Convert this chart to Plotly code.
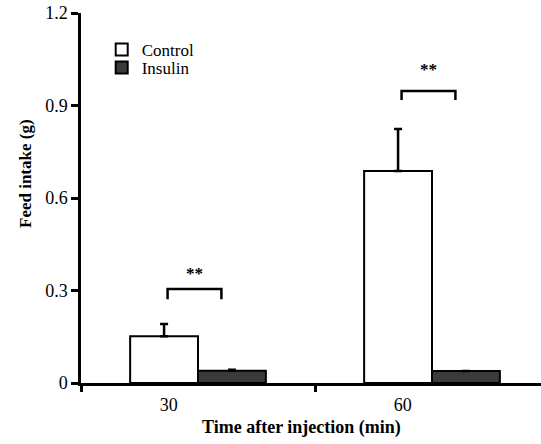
import plotly.graph_objects as go

# ---- data ----
categories = ["30", "60"]
control_mean = [0.152, 0.688]
control_err = [0.039, 0.136]
insulin_mean = [0.040, 0.039]
insulin_err = [0.003, 0.0]

# significance brackets (data coords: value of bracket top / leg bottom / star label)
sig_labels = ["**", "**"]
sig_top = [0.305, 0.947]
sig_leg = [0.272, 0.918]
sig_star = [0.352, 1.012]

yticks = [0, 0.3, 0.6, 0.9, 1.2]
ytick_text = ["0", "0.3", "0.6", "0.9", "1.2"]

# ---- style ----
FONT = "Liberation Serif"
pos = [1, 2]
label_shift = -0.125
br_left, br_right = -0.13, 0.10
xr = [0.5, 0.5 + 460 / 234]

fig = go.Figure()
fig.add_trace(go.Bar(
    x=pos, y=control_mean, name="Control", legend="legend",
    marker=dict(color="white", line=dict(color="black", width=2)),
    error_y=dict(type="data", array=control_err, arrayminus=[0] * len(pos), symmetric=False,
                 color="black", thickness=2.5, width=4),
))
fig.add_trace(go.Bar(
    x=pos, y=insulin_mean, name="Insulin", legend="legend2",
    marker=dict(color="#3a3a3a", line=dict(color="black", width=2)),
    error_y=dict(type="data", array=insulin_err, arrayminus=[0] * len(pos), symmetric=False,
                 color="black", thickness=2.5, width=4),
))

for i, p in enumerate(pos):
    fig.add_trace(go.Scatter(
        x=[p + br_left, p + br_left, p + br_right, p + br_right],
        y=[sig_leg[i], sig_top[i], sig_top[i], sig_leg[i]],
        mode="lines", line=dict(color="black", width=2.5),
        showlegend=False, hoverinfo="skip", xaxis="x2",
    ))
    fig.add_trace(go.Scatter(
        x=[p + (br_left + br_right) / 2], y=[sig_star[i]], mode="text",
        text=["<b>" + sig_labels[i] + "</b>"], textfont=dict(family=FONT, size=17, color="black"),
        showlegend=False, hoverinfo="skip", xaxis="x2",
    ))

legend_style = dict(xanchor="left", yanchor="top", bgcolor="rgba(0,0,0,0)",
                    font=dict(family=FONT, size=17, color="black"), itemwidth=30)

fig.update_layout(
    width=541, height=444,
    margin=dict(l=81, r=0, t=13, b=61),
    paper_bgcolor="white", plot_bgcolor="white",
    barmode="group", bargap=0.42, bargroupgap=0,
    font=dict(family=FONT, size=18, color="black"),
    xaxis=dict(range=xr, tickmode="array",
               tickvals=[p + label_shift for p in pos], ticktext=categories,
               ticks="", showline=True, linecolor="black", linewidth=2.5,
               showgrid=False, zeroline=False, tickfont=dict(size=18),
               ticklabelstandoff=4),
    xaxis2=dict(range=xr, overlaying="x", anchor="y", side="bottom",
                tickmode="array", tickvals=[0.5, 1.5, 2.5], ticks="outside",
                ticklen=8, tickwidth=2.5, tickcolor="black",
                showticklabels=False, showgrid=False, zeroline=False, showline=False),
    yaxis=dict(range=[0, 1.2001], tickmode="array", tickvals=yticks, ticktext=ytick_text,
               ticks="outside", ticklen=7, tickwidth=2.5, tickcolor="black",
               showline=True, linecolor="black", linewidth=2.5, ticklabeloverflow="allow",
               showgrid=False, zeroline=False, tickfont=dict(size=18)),
    legend=dict(x=0.045, y=0.9486, **legend_style),
    legend2=dict(x=0.045, y=0.90, **legend_style),
    annotations=[
        dict(text="<b>Time after injection (min)</b>", xref="paper", yref="paper",
             x=(301 - 81) / 460, y=-44 / 370, xanchor="center", yanchor="middle",
             showarrow=False, font=dict(family=FONT, size=18)),
        dict(text="<b>Feed intake (g)</b>", xref="paper", yref="paper",
             x=-56 / 460, y=(383 - 174) / 370, xanchor="center", yanchor="middle",
             textangle=-90, showarrow=False, font=dict(family=FONT, size=17)),
    ],
)

fig.write_html("out.html", config={"displayModeBar": False},
               post_script="document.body.style.margin='0px';")
